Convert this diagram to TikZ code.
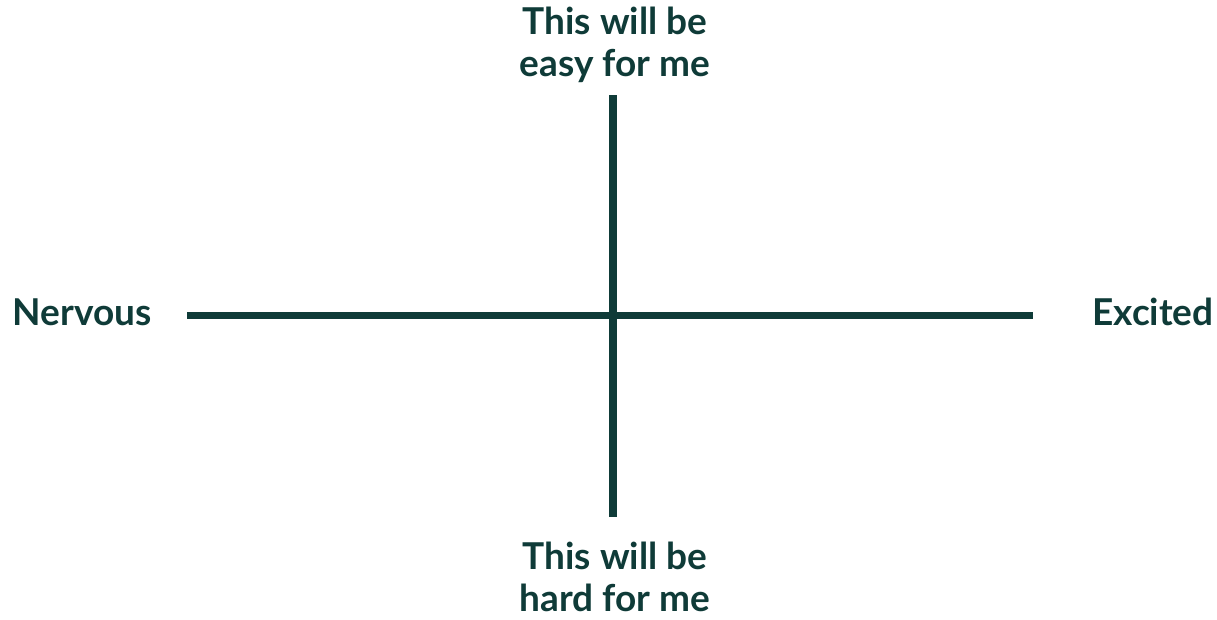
\documentclass[tikz,border=0pt]{standalone}
\usepackage{fontspec}
\setmainfont{Lato}
\definecolor{ink}{HTML}{0F3B38}
\begin{document}
\begin{tikzpicture}[x=1pt,y=-1pt,
  lbl/.style={text=ink,font=\fontsize{37}{42}\selectfont\bfseries,align=center,inner sep=0pt},
  axis/.style={draw=ink,line width=8.5pt,line cap=butt}]
\useasboundingbox (0,0) rectangle (1217,619);
\coordinate (top) at (613,95);
\coordinate (bot) at (613,517);
\coordinate (left) at (187,315);
\coordinate (right) at (1033,315);
\draw[axis] (top) -- (bot);
\draw[axis,line width=7pt] (left) -- (right);
\node[lbl,anchor=north] (easy) at (615,7) {This will be\\easy for me};
\node[lbl,anchor=south,text depth=0pt] (hard) at (615,612) {This will be\\hard for me};
\node[lbl,anchor=center] (nerv) at (82,312) {Nervous};
\node[lbl,anchor=center] (exc) at (1153,312) {Excited};
\end{tikzpicture}
\end{document}
